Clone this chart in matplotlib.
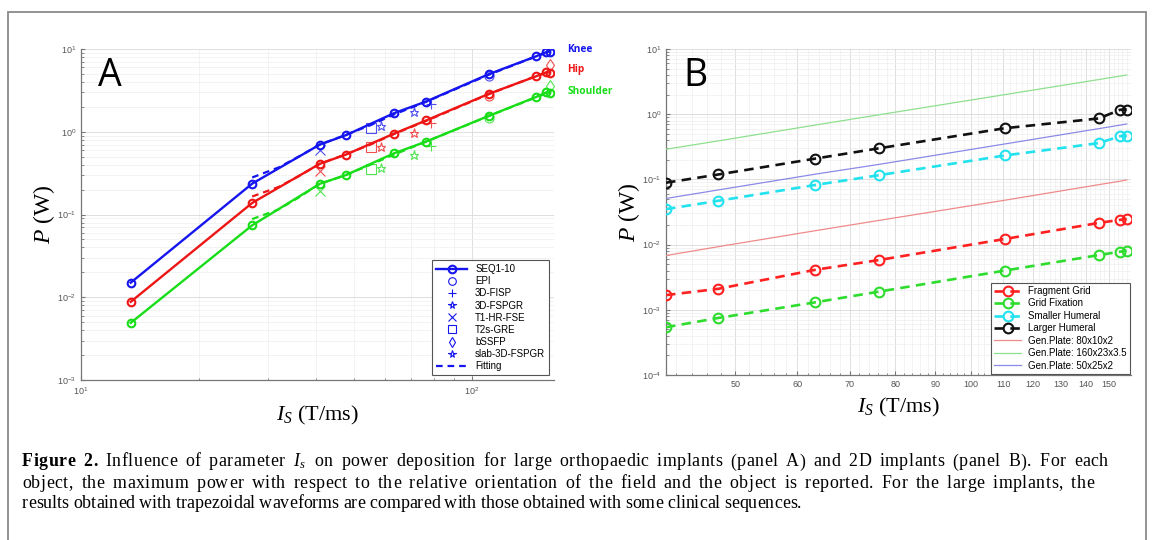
import numpy as np
import matplotlib
matplotlib.use("Agg")
import matplotlib.pyplot as plt
from matplotlib.lines import Line2D
from matplotlib.ticker import FixedLocator, FuncFormatter, NullFormatter, LogLocator
from matplotlib.patches import Rectangle
from matplotlib.font_manager import FontProperties, findfont, get_font
from matplotlib.ft2font import LoadFlags

plt.rcParams['font.family'] = ['Liberation Sans', 'DejaVu Sans']
plt.rcParams['mathtext.fontset'] = 'custom'
plt.rcParams['mathtext.rm'] = 'Liberation Serif'
plt.rcParams['mathtext.it'] = 'Liberation Serif:italic'
plt.rcParams['mathtext.bf'] = 'Liberation Serif:bold'
plt.rcParams['mathtext.sf'] = 'Liberation Sans'

# ---------------- Panel A data ----------------
Is_A = [13.4, 27.4, 40.8, 47.6, 63.2, 76.3, 110.5, 145.5, 155, 158]
knee = [0.0150, 0.236, 0.70, 0.91, 1.68, 2.32, 4.98, 8.13, 9.2, 9.3]
hip = [0.0088, 0.138, 0.41, 0.53, 0.95, 1.37, 2.88, 4.66, 5.25, 5.2]
shoulder = [0.0049, 0.074, 0.235, 0.30, 0.55, 0.76, 1.56, 2.62, 3.0, 2.95]

fit_Is = [27.4, 32, 36, 40.8, 47.6, 55, 63.2, 76.3, 110.5, 145.5, 158]
fit_knee = [0.28, 0.37, 0.50, 0.70, 0.92, 1.2, 1.62, 2.3, 4.9, 8.1, 9.3]
fit_hip = [0.165, 0.215, 0.29, 0.41, 0.535, 0.70, 0.94, 1.35, 2.85, 4.7, 5.3]
fit_shoulder = [0.088, 0.115, 0.16, 0.235, 0.30, 0.40, 0.53, 0.76, 1.55, 2.6, 3.0]

seq_names = ['EPI', '3D-FISP', '3D-FSPGR', 'T1-HR-FSE', 'T2s-GRE', 'bSSFP', 'slab-3D-FSPGR']
seq_markers = ['o', '+', '*', 'x', 's', 'd', '*']
seq_Is = [110.5, 78.5, 71.1, 40.8, 55.1, 158, 58.5]
seq_knee = [4.67, 2.18, 1.71, 0.61, 1.11, 11.2, 1.16]
seq_hip = [2.67, 1.27, 0.96, 0.34, 0.65, 6.45, 0.66]
seq_shoulder = [1.46, 0.68, 0.53, 0.19, 0.35, 3.53, 0.36]

implant_labels = ['Knee', 'Hip', 'Shoulder']

# ---------------- Panel B data ----------------
Is_B = [40.8, 47.6, 63.2, 76.3, 110.5, 145.5, 155, 158]
fragment_grid = [0.00168, 0.0021, 0.0041, 0.0058, 0.0122, 0.0215, 0.0240, 0.0248]
grid_fixation = [0.00054, 0.00075, 0.0013, 0.0019, 0.0040, 0.0069, 0.0078, 0.0081]
smaller_humeral = [0.035, 0.047, 0.082, 0.116, 0.233, 0.36, 0.46, 0.47]
larger_humeral = [0.089, 0.119, 0.208, 0.30, 0.61, 0.86, 1.17, 1.18]
plate_80 = [0.0068, 0.0093, 0.0163, 0.0235, 0.048, 0.083, 0.094, 0.098]
plate_160 = [0.29, 0.39, 0.68, 0.98, 2.0, 3.4, 3.85, 4.0]
plate_50 = [0.051, 0.069, 0.12, 0.17, 0.35, 0.60, 0.68, 0.71]
B_xticks = [50, 60, 70, 80, 90, 100, 110, 120, 130, 140, 150]

# caption: list of (text, style) pieces per line
caption_lines = [
    [("Figure 2.", 'bold'), (" Influence of parameter ", 'reg'), ("$I_s$", 'math'),
     (" on power deposition for large orthopaedic implants (panel A) and 2D implants (panel B). For each", 'reg')],
    [("object, the maximum power with respect to the relative orientation of the field and the object is reported. For the large implants, the", 'reg')],
    [("results obtained with trapezoidal waveforms are compared with those obtained with some clinical sequences.", 'reg')],
]

# ---------------- Figure ----------------
W, H = 1153, 540
DPI = 100
fig = plt.figure(figsize=(W / DPI, H / DPI), dpi=DPI)

# page border
fig.add_artist(Rectangle((8 / W, -0.05), (1146 - 8) / W, (1 - 12 / H) + 0.05,
                         transform=fig.transFigure, fill=False,
                         edgecolor='#8a8a8a', linewidth=1.3))

def ax_rect(l, r, t, b):
    return [l / W, 1 - b / H, (r - l) / W, (b - t) / H]

tick_col = '#555555'

def sci_fmt(v, pos):
    e = int(round(np.log10(v)))
    return r'$\mathsf{10^{%d}}$' % e

def style_axes(ax):
    for s in ['top', 'right']:
        ax.spines[s].set_visible(False)
    for s in ['left', 'bottom']:
        ax.spines[s].set_color('#777777')
        ax.spines[s].set_linewidth(0.9)
    ax.tick_params(which='both', direction='in', colors='#777777',
                   labelcolor=tick_col, labelsize=6.5)
    ax.tick_params(which='major', length=3)
    ax.tick_params(which='minor', length=1.8)
    ax.grid(True, which='major', color='#d9d9d9', linewidth=0.6)
    ax.grid(True, which='minor', color='#eeeeee', linewidth=0.5)
    ax.set_axisbelow(True)

# ---------------- Panel A ----------------
axA = fig.add_axes(ax_rect(81, 554, 49, 380))
axA.set_xscale('log')
axA.set_yscale('log')
colsA = ['#1515ee', '#ee1515', '#18dd18']
datasA = [knee, hip, shoulder]
fitsA = [fit_knee, fit_hip, fit_shoulder]
seqsA = [seq_knee, seq_hip, seq_shoulder]
for c, d, f, sq in zip(colsA, datasA, fitsA, seqsA):
    axA.plot(fit_Is, f, color=c, linestyle=(0, (3.0, 2.2)), linewidth=1.6, zorder=3)
    axA.plot(Is_A, d, color=c, linewidth=1.7, marker='o', markersize=5.5,
             markerfacecolor='none', markeredgewidth=1.5, zorder=4)
    for xi, yi, m in zip(seq_Is, sq, seq_markers):
        axA.plot([xi], [yi], linestyle='none', marker=m, markersize=6.5,
                 markerfacecolor='none', markeredgecolor=c, markeredgewidth=0.8,
                 alpha=0.75, zorder=5)
axA.set_xlim(10, 162)
axA.set_ylim(1e-3, 10)
style_axes(axA)
axA.yaxis.set_major_locator(FixedLocator([1e-3, 1e-2, 1e-1, 1, 10]))
axA.yaxis.set_major_formatter(FuncFormatter(sci_fmt))
axA.yaxis.set_minor_locator(LogLocator(base=10, subs=np.arange(2, 10)))
axA.yaxis.set_minor_formatter(NullFormatter())
axA.xaxis.set_major_locator(FixedLocator([10, 100]))
axA.xaxis.set_major_formatter(FuncFormatter(sci_fmt))
axA.xaxis.set_minor_locator(LogLocator(base=10, subs=np.arange(2, 10)))
axA.xaxis.set_minor_formatter(NullFormatter())
axA.set_ylabel(r'$P$ (W)', fontsize=17, family='Liberation Serif', labelpad=0)
axA.set_xlabel(r'$I_S$ (T/ms)', fontsize=16, family='Liberation Serif', labelpad=5)
axA.text(0.036, 0.975, 'A', transform=axA.transAxes, fontsize=27,
         family='Open Sans', va='top', ha='left')
label_y = [10.0, 5.6, 3.05]
for c, lab, yv in zip(colsA, implant_labels, label_y):
    axA.text(175, yv, lab, color=c, fontsize=7.3, fontweight='bold',
             family='Open Sans', va='center', ha='left', clip_on=False)

handlesA = [Line2D([], [], color=colsA[0], linewidth=1.7, marker='o', markersize=5.5,
                   markerfacecolor='none', markeredgewidth=1.5, label='SEQ1-10')]
for n, m in zip(seq_names, seq_markers):
    handlesA.append(Line2D([], [], color=colsA[0], linestyle='none', marker=m, markersize=5.5,
                           markerfacecolor='none', markeredgewidth=0.8, label=n))
handlesA.append(Line2D([], [], color=colsA[0], linestyle=(0, (3.0, 2.2)), linewidth=1.6,
                       label='Fitting'))
legA = axA.legend(handles=handlesA, loc='lower right', fontsize=7, frameon=True,
                  fancybox=False, framealpha=1, edgecolor='#555555',
                  handlelength=3.2, labelspacing=0.22, borderpad=0.4,
                  handletextpad=0.8, borderaxespad=0.5)
legA.get_frame().set_linewidth(0.8)

# ---------------- Panel B ----------------
axB = fig.add_axes(ax_rect(666, 1131, 49, 375))
axB.set_xscale('log')
axB.set_yscale('log')
dash = (0, (3.6, 2.4))
series_B = [(fragment_grid, '#ff2020', 'Fragment Grid'),
            (grid_fixation, '#2edc2e', 'Grid Fixation'),
            (smaller_humeral, '#22e2ee', 'Smaller Humeral'),
            (larger_humeral, '#111111', 'Larger Humeral')]
for d, c, lab in series_B:
    axB.plot(Is_B, d, color=c, linestyle=dash, linewidth=1.9, marker='o',
             markersize=7, markerfacecolor='none', markeredgewidth=1.5, label=lab,
             zorder=4)
plates_B = [(plate_80, '#f08a8a', 'Gen.Plate: 80x10x2'),
            (plate_160, '#8ee08e', 'Gen.Plate: 160x23x3.5'),
            (plate_50, '#8a8ae8', 'Gen.Plate: 50x25x2')]
for d, c, lab in plates_B:
    axB.plot(Is_B, d, color=c, linewidth=0.9, label=lab, zorder=3)
axB.set_xlim(40.8, 160)
axB.set_ylim(1e-4, 10)
style_axes(axB)
axB.yaxis.set_major_locator(FixedLocator([1e-4, 1e-3, 1e-2, 1e-1, 1, 10]))
axB.yaxis.set_major_formatter(FuncFormatter(sci_fmt))
axB.yaxis.set_minor_locator(LogLocator(base=10, subs=np.arange(2, 10)))
axB.yaxis.set_minor_formatter(NullFormatter())
axB.xaxis.set_major_locator(FixedLocator(B_xticks))
axB.xaxis.set_major_formatter(FuncFormatter(lambda v, p: '%d' % v))
axB.xaxis.set_minor_locator(FixedLocator([v for v in range(42, 160, 2) if v % 10 != 0]))
axB.xaxis.set_minor_formatter(NullFormatter())
axB.set_ylabel(r'$P$ (W)', fontsize=17, family='Liberation Serif', labelpad=0)
axB.set_xlabel(r'$I_S$ (T/ms)', fontsize=16, family='Liberation Serif', labelpad=5)
axB.text(0.037, 0.975, 'B', transform=axB.transAxes, fontsize=27,
         family='Open Sans', va='top', ha='left')
legB = axB.legend(loc='lower right', fontsize=7, frameon=True, fancybox=False,
                  framealpha=1, edgecolor='#555555', handlelength=2.8,
                  labelspacing=0.25, borderpad=0.35, handletextpad=0.7,
                  borderaxespad=0.1)
legB.get_frame().set_linewidth(0.8)

# ---------------- Caption (justified: word spacing + slight tracking) ----------------
cap_left = 22
cap_right = [1108, 1094, None]
cap_y = [462, 483, 504]
last_line_right = 800
space_weight = 6.0
rend = fig.canvas.get_renderer()
fonts = {
    'reg': get_font(findfont(FontProperties(family='Liberation Serif'))),
    'bold': get_font(findfont(FontProperties(family='Liberation Serif', weight='bold'))),
}

def advance(ch, style, fs):
    f = fonts[style]
    f.set_size(fs, DPI)
    g = f.load_char(ord(ch), flags=LoadFlags.NO_HINTING)
    return g.linearHoriAdvance / 65536.0

def math_width(s, fs):
    t = fig.text(0, 0, s, fontsize=fs)
    w = t.get_window_extent(rend).width + 1.0
    t.remove()
    return w

def units(line, fs):
    out = []
    for s, style in line:
        if style == 'math':
            out.append((s, style, math_width(s, fs)))
        else:
            for ch in s:
                out.append((ch, style, advance(ch, style, fs)))
    return out

base_fs = 12.0
w3 = sum(u[2] for u in units(caption_lines[2], base_fs))
fs = base_fs * (last_line_right - cap_left) / w3

for li, line in enumerate(caption_lines):
    us = units(line, fs)
    natural = sum(u[2] for u in us)
    n_sp = sum(1 for u in us if u[0] == ' ')
    if cap_right[li] is not None:
        t_unit = (cap_right[li] - cap_left - natural) / ((len(us) - 1) + space_weight * n_sp)
    else:
        t_unit = 0.0
    x = cap_left
    ybase = 1 - (cap_y[li] + 4.5) / H
    for s, style, w in us:
        if s != ' ':
            kw = dict(fontsize=fs, va='baseline', ha='left')
            if style != 'math':
                kw['family'] = 'Liberation Serif'
                if style == 'bold':
                    kw['fontweight'] = 'bold'
            fig.text(x / W, ybase, s, **kw)
            x += w + t_unit
        else:
            x += w + t_unit * (1 + space_weight)

fig.savefig('out.png', dpi=DPI)
